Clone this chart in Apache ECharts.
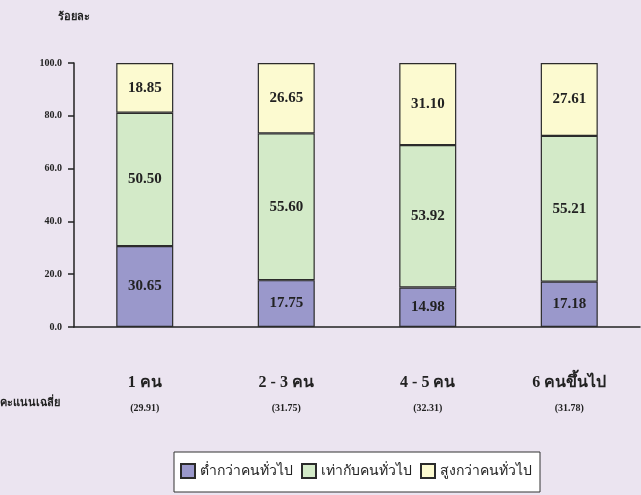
<!DOCTYPE html>
<html>
<head>
<meta charset="utf-8">
<script src="https://cdn.jsdelivr.net/npm/echarts@6/dist/echarts.min.js"></script>
<style>
  html, body { margin: 0; padding: 0; background: #ebe4f0; }
  #chart { width: 641px; height: 495px; }
</style>
</head>
<body>
<div id="chart"></div>
<script>
const categories = ['1 คน', '2 - 3 คน', '4 - 5 คน', '6 คนขึ้นไป']
const averages = ['(29.91)', '(31.75)', '(32.31)', '(31.78)']
const lower = [30.65, 17.75, 14.98, 17.18]
const equal = [50.50, 55.60, 53.92, 55.21]
const higher = [18.85, 26.65, 31.10, 27.61]
const seriesNames = ['ต่ำกว่าคนทั่วไป', 'เท่ากับคนทั่วไป', 'สูงกว่าคนทั่วไป']
const colors = ['#9a98cb', '#d3eac8', '#fcfad0']

const font = '"Liberation Serif", "Times New Roman", serif'
const chart = echarts.init(document.getElementById('chart'))

function barSeries(name, data, color) {
    return {
        name: name,
        type: 'bar',
        stack: 'total',
        barWidth: 57,
        data: data,
        itemStyle: {
            color: color,
            borderColor: '#2b2b2b',
            borderWidth: 1.2
        },
        label: {
            show: true,
            position: 'inside',
            color: '#222',
            fontFamily: font,
            fontWeight: 'bold',
            fontSize: 15,
            formatter: p => p.value.toFixed(2)
        }
    }
}

chart.setOption({
    backgroundColor: '#ebe4f0',
    animation: false,
    textStyle: { fontFamily: font },
    grid: { left: 74, right: 1, top: 63, bottom: 168 },
    graphic: [{
        type: 'text',
        left: 0,
        top: 398,
        style: {
            text: 'คะแนนเฉลี่ย',
            font: 'bold 11px ' + font,
            fill: '#222'
        }
    }],
    legend: {
        left: 174,
        top: 452,
        itemWidth: 14,
        itemHeight: 14,
        itemGap: 8,
        padding: [11, 8, 13, 6],
        backgroundColor: '#ffffff',
        borderColor: '#333',
        borderWidth: 1,
        borderRadius: 0,
        icon: 'rect',
        textStyle: { fontFamily: font, fontSize: 14, color: '#222' },
        data: seriesNames
    },
    xAxis: {
        type: 'category',
        data: categories,
        axisLine: { lineStyle: { color: '#222', width: 1.5 } },
        axisTick: { length: 9, lineStyle: { color: '#222', width: 1.5 } },
        axisLabel: {
            margin: 44,
            color: '#222',
            formatter: (v, i) => '{a|' + v + '}\n{b|' + averages[i] + '}',
            rich: {
                a: { fontFamily: font, fontWeight: 'bold', fontSize: 16, lineHeight: 24 },
                b: { fontFamily: font, fontWeight: 'bold', fontSize: 10, lineHeight: 26 }
            }
        }
    },
    yAxis: {
        type: 'value',
        min: 0,
        max: 100,
        interval: 20,
        name: 'ร้อยละ',
        nameGap: 40,
        nameTextStyle: { color: '#222', fontFamily: font, fontWeight: 'bold', fontSize: 11 },
        splitLine: { show: false },
        axisLine: { show: true, lineStyle: { color: '#222', width: 1.5 } },
        axisTick: { show: true, length: 6, lineStyle: { color: '#222', width: 1.5 } },
        axisLabel: {
            margin: 12,
            color: '#222',
            fontFamily: font,
            fontWeight: 'bold',
            fontSize: 10,
            formatter: v => v.toFixed(1)
        }
    },
    series: [
        barSeries(seriesNames[0], lower, colors[0]),
        barSeries(seriesNames[1], equal, colors[1]),
        barSeries(seriesNames[2], higher, colors[2])
    ]
})
</script>
</body>
</html>
